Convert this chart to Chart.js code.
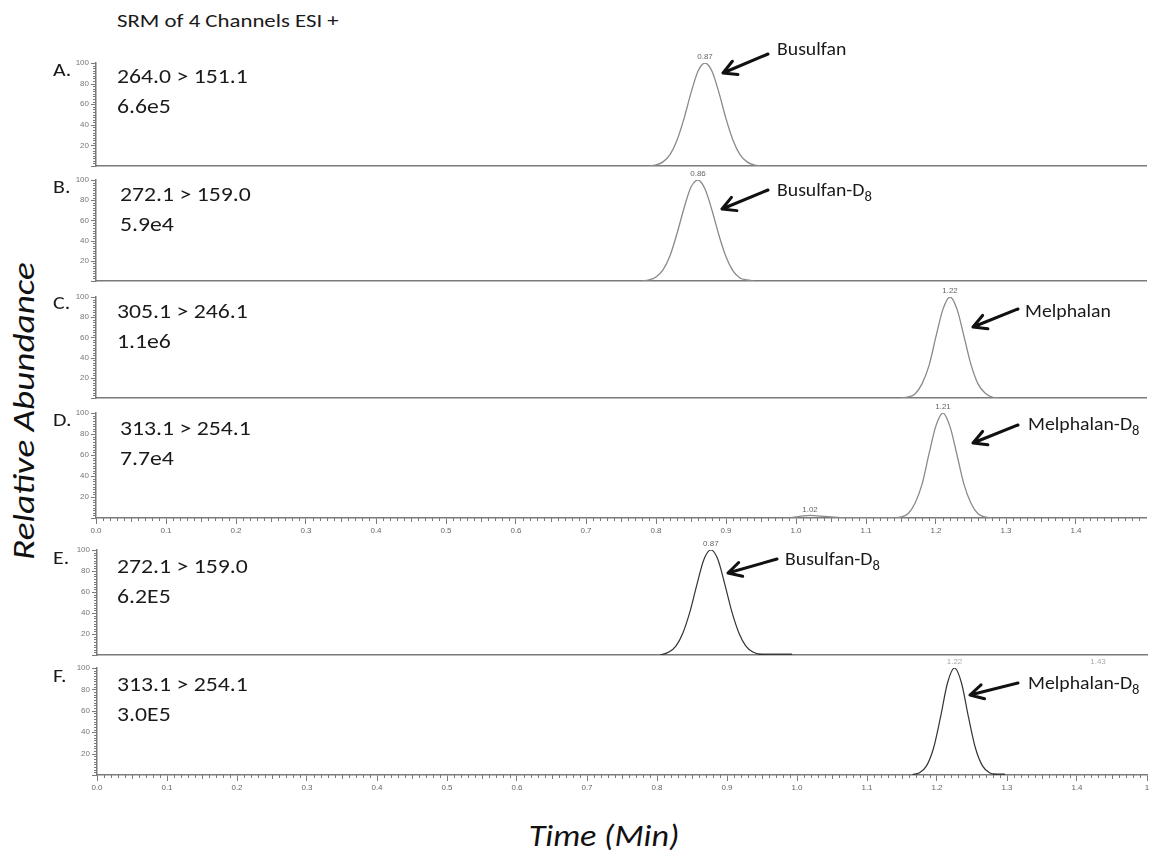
<!DOCTYPE html>
<html><head><meta charset="utf-8">
<script src="https://cdn.jsdelivr.net/npm/chart.js@4.4.1/dist/chart.umd.min.js"></script>
<style>
html,body{margin:0;padding:0;background:#fff;}
#stage{position:relative;width:1169px;height:857px;overflow:hidden;font-family:Carlito,Lato,"Open Sans",sans-serif;color:#1a1a1a;}
canvas{position:absolute;}
.t{position:absolute;white-space:nowrap;line-height:1;transform-origin:0 50%;}
.chan{font-size:21px;transform:translateY(-50%) scaleX(1.13);}
.letter{font-size:19px;transform:translateY(-50%) scaleX(1.15);}
.title{font-size:19px;transform:translateY(-50%) scaleX(1.2);}
.comp{font-size:19px;transform:translateY(-50%) scaleX(1.04);}
.comp sub{font-size:14px;vertical-align:-5px;line-height:0;}
.ax{position:absolute;white-space:nowrap;line-height:1;font-style:italic;font-size:31px;color:#111;}
svg{position:absolute;left:0;top:0;}
</style></head><body><div id="stage"></div>
<script>
// ---------------- data ----------------
const timeA  = [0.79,0.80,0.81,0.82,0.83,0.84,0.85,0.86,0.87,0.88,0.89,0.90,0.91,0.92,0.93,0.94,0.95];
const abundA = [0,1,4,11,25,46,71,92,100,92,71,46,25,11,4,1,0];

const timeB  = [0.78,0.79,0.80,0.81,0.82,0.83,0.84,0.85,0.86,0.87,0.88,0.89,0.90,0.91,0.92,0.93,0.94];
const abundB = [0,1,4,11,25,47,72,93,100,91,70,45,24,10,3,1,0];

const timeC  = [1.15,1.16,1.17,1.18,1.19,1.20,1.21,1.22,1.23,1.24,1.25,1.26,1.27,1.28,1.29];
const abundC = [0,1,4,14,32,61,88,100,88,61,33,14,5,1,0];

const timeD  = [0.99,1.00,1.01,1.02,1.03,1.04,1.05,1.06,1.07,1.14,1.15,1.16,1.17,1.18,1.19,1.20,1.21,1.22,1.23,1.24,1.25,1.26,1.27,1.28];
const abundD = [0,1,2,2.5,2,1.5,1,0.5,0,0,1,4,14,32,61,88,100,87,60,32,14,4,1,0];

const timeE  = [0.805,0.817,0.827,0.837,0.847,0.857,0.867,0.877,0.887,0.897,0.907,0.917,0.927,0.937,0.947,0.96,0.993];
const abundE = [0,2.8,8.5,21,41,67,91,100,91,67,41,21,8.5,2.8,0.6,0,0];
const tailTimeE  = [0.945,0.993];
const tailAbundE = [0.4,0.4];

const timeF  = [1.165,1.175,1.185,1.195,1.205,1.215,1.225,1.235,1.245,1.255,1.265,1.275,1.285,1.297];
const abundF = [0.4,2.1,8.5,25,54,86,100,86,54,25,8.5,2.1,0.4,0];
const tailTimeF  = [1.28,1.297];
const tailAbundF = [0.4,0.4];

const xTickValues  = [0,0.1,0.2,0.3,0.4,0.5,0.6,0.7,0.8,0.9,1.0,1.1,1.2,1.3,1.4];
const xTickLabels  = ['0.0','0.1','0.2','0.3','0.4','0.5','0.6','0.7','0.8','0.9','1.0','1.1','1.2','1.3','1.4'];
const xTickValuesF = [0,0.1,0.2,0.3,0.4,0.5,0.6,0.7,0.8,0.9,1.0,1.1,1.2,1.3,1.4,1.5];
const xTickLabelsF = ['0.0','0.1','0.2','0.3','0.4','0.5','0.6','0.7','0.8','0.9','1.0','1.1','1.2','1.3','1.4','1'];
const yTickValues  = [0,20,40,60,80,100];
const yTickLabels  = ['','20','40','60','80','100'];

const panelLetters = ['A.','B.','C.','D.','E.','F.'];
const transitions  = ['264.0 > 151.1','272.1 > 159.0','305.1 > 246.1','313.1 > 254.1','272.1 > 159.0','313.1 > 254.1'];
const intensities  = ['6.6e5','5.9e4','1.1e6','7.7e4','6.2E5','3.0E5'];
const compoundNames = ['Busulfan','Busulfan-D','Melphalan','Melphalan-D','Busulfan-D','Melphalan-D'];
const compoundSubs  = ['','8','','8','8','8'];

const peakTimesA = [0.87]; const peakTextA = ['0.87']; const peakAbundA = [100];
const peakTimesB = [0.86]; const peakTextB = ['0.86']; const peakAbundB = [100];
const peakTimesC = [1.22]; const peakTextC = ['1.22']; const peakAbundC = [100];
const peakTimesD = [1.21, 1.02]; const peakTextD = ['1.21','1.02']; const peakAbundD = [100, 2.5];
const peakTimesE = [0.877]; const peakTextE = ['0.87']; const peakAbundE = [100];
const peakTimesF = [1.225, 1.43]; const peakTextF = ['1.22','1.43']; const peakAbundF = [100, 100];

// ---------------- layout ----------------
const stage = document.getElementById('stage');
const PAD_TOP = 10;
const panels = [
  {t:timeA,a:abundA,pt:peakTimesA,px:peakTextA,pa:peakAbundA,top:63,bottom:166,left:96,right:1146,labels:false,color:'#8a8a8a',lw:1.3},
  {t:timeB,a:abundB,pt:peakTimesB,px:peakTextB,pa:peakAbundB,top:180,bottom:281,left:96,right:1146,labels:false,color:'#8a8a8a',lw:1.3},
  {t:timeC,a:abundC,pt:peakTimesC,px:peakTextC,pa:peakAbundC,top:297,bottom:398,left:96,right:1146,labels:false,color:'#8a8a8a',lw:1.3},
  {t:timeD,a:abundD,pt:peakTimesD,px:peakTextD,pa:peakAbundD,top:413,bottom:518,left:96,right:1146,labels:true,tv:xTickValues,tl:xTickLabels,minorMax:149,color:'#8a8a8a',lw:1.3},
  {t:timeE,a:abundE,pt:peakTimesE,px:peakTextE,pa:peakAbundE,top:550,bottom:655,left:97,right:1147,labels:false,color:'#333',lw:1.2,tailT:tailTimeE,tailA:tailAbundE},
  {t:timeF,a:abundF,pt:peakTimesF,px:peakTextF,pa:peakAbundF,top:668,bottom:775,left:97,right:1147,labels:true,tv:xTickValuesF,tl:xTickLabelsF,minorMax:150,color:'#333',lw:1.2,tailT:tailTimeF,tailA:tailAbundF,faint:[true,true]},
];

const deco = {
  id:'deco',
  afterDraw(chart, args, o){
    const {ctx, chartArea:ca, scales:{x,y}} = chart;
    ctx.save();
    ctx.strokeStyle = '#7a7a7a'; ctx.lineWidth = 1;
    ctx.beginPath();
    for (let i=0;i<=40;i++){
      const py = Math.round(y.getPixelForValue(i*2.5))+0.5;
      const len = (i%8===0)?5:3;
      ctx.moveTo(ca.left-len, py); ctx.lineTo(ca.left, py);
    }
    ctx.stroke();
    if (o.minorMax){
      ctx.beginPath();
      for (let i=0;i<=o.minorMax;i++){
        if (i%10===0) continue;
        const px = Math.round(x.getPixelForValue(i/100))+0.5;
        const len = (i%5===0)?4:3;
        ctx.moveTo(px, ca.bottom); ctx.lineTo(px, ca.bottom+len);
      }
      ctx.stroke();
    }
    ctx.font = '8px "Liberation Sans", Arial, sans-serif';
    ctx.textAlign = 'center'; ctx.textBaseline = 'bottom';
    o.pt.forEach((t,i)=>{
      ctx.fillStyle = (o.faint && o.faint[i]) ? '#aaa' : '#666';
      ctx.fillText(o.px[i], x.getPixelForValue(t), y.getPixelForValue(o.pa[i])-2);
    });
    ctx.restore();
  }
};

panels.forEach((p,idx)=>{
  const xh = p.labels ? 22 : 1;
  const T = p.top - PAD_TOP;
  const L = p.left - 40;
  const W = 1162 - L;
  const H = p.bottom - T + xh;
  const cv = document.createElement('canvas');
  cv.width = W; cv.height = H;
  cv.style.left = L+'px'; cv.style.top = T+'px';
  cv.style.width = W+'px'; cv.style.height = H+'px';
  stage.appendChild(cv);
  const datasets = [{
    data: p.t.map((t,i)=>({x:t,y:p.a[i]})),
    borderColor:p.color, borderWidth:p.lw, pointRadius:0, fill:false,
    cubicInterpolationMode:'monotone'
  }];
  if (p.tailT){
    datasets.push({data:p.tailT.map((t,i)=>({x:t,y:p.tailA[i]})),borderColor:'#444',borderWidth:2.2,pointRadius:0,fill:false});
  }
  new Chart(cv, {
    type:'line',
    data:{datasets},
    options:{
      responsive:false, animation:false, devicePixelRatio:1,
      layout:{padding:{top:PAD_TOP,right:W-(p.right-L),left:0,bottom:0}},
      plugins:{legend:{display:false},tooltip:{enabled:false},
        deco:{minorMax:p.minorMax,pt:p.pt,px:p.px,pa:p.pa,faint:p.faint}},
      scales:{
        x:{type:'linear',min:0,max:1.5,
          afterBuildTicks:s=>{ s.ticks = (p.tv||xTickValues).map(v=>({value:v})); },
          afterFit:s=>{ s.height = xh; },
          ticks:{display:p.labels,autoSkip:false,maxRotation:0,padding:2,color:'#666',
            font:{size:8,family:'"Liberation Sans", Arial, sans-serif'},
            callback:(v,i)=>(p.tl||xTickLabels)[i]},
          grid:{drawOnChartArea:false,drawTicks:p.labels,tickLength:6,color:'#7a7a7a'},
          border:{display:true,color:'#7a7a7a',width:1.5}
        },
        y:{type:'linear',min:0,max:100,
          afterBuildTicks:s=>{ s.ticks = yTickValues.map(v=>({value:v})); },
          afterFit:s=>{ s.width = 40; s.paddingTop = 0; s.paddingBottom = 0; },
          ticks:{autoSkip:false,padding:7,color:'#777',
            font:{size:8,family:'"Liberation Sans", Arial, sans-serif'},
            callback:(v,i)=>yTickLabels[i]},
          grid:{drawOnChartArea:false,drawTicks:false,tickLength:0,color:'#7a7a7a'},
          border:{display:true,color:'#7a7a7a',width:1.5}
        }
      }
    },
    plugins:[deco]
  });
});

// ---------------- text annotations ----------------
function addText(cls, html, x, y){
  const d = document.createElement('div');
  d.className = 't '+cls; d.innerHTML = html;
  d.style.left = x+'px'; d.style.top = y+'px';
  stage.appendChild(d); return d;
}
addText('title', 'SRM of 4 Channels ESI +', 117, 20);

const letterPos = [[53,69],[53,186],[53,302],[53,419],[53,557],[53,675]];
const chanPos   = [[117,76],[120,194],[117,311],[120,428],[117,566],[117,684]];
const compPos   = [[777,48],[777,189],[1025,310],[1028,423],[785,558],[1028,682]];
panelLetters.forEach((s,i)=>{
  addText('letter', s, letterPos[i][0], letterPos[i][1]);
  addText('chan', transitions[i], chanPos[i][0], chanPos[i][1]);
  addText('chan', intensities[i], chanPos[i][0], chanPos[i][1]+30);
  addText('comp', compoundNames[i] + (compoundSubs[i]?'<sub>'+compoundSubs[i]+'</sub>':''), compPos[i][0], compPos[i][1]);
});

const yl = document.createElement('div');
yl.className='ax'; yl.textContent='Relative Abundance';
yl.style.left='23px'; yl.style.top='411px';
yl.style.transform='translate(-50%,-50%) rotate(-90deg) scaleX(1.2)';
stage.appendChild(yl);
const xl = document.createElement('div');
xl.className='ax'; xl.textContent='Time (Min)';
xl.style.left='604px'; xl.style.top='835px';
xl.style.transform='translate(-50%,-50%) scaleX(1.1)';
stage.appendChild(xl);

// ---------------- arrows ----------------
const arrows = [[768,54,723,73],[768,190,722,209],[1018,309,973,327],[1018,425,973,443],[777,559,728,573],[1018,683,970,695]];
const NS='http://www.w3.org/2000/svg';
const svg = document.createElementNS(NS,'svg');
svg.setAttribute('width','1169'); svg.setAttribute('height','857');
arrows.forEach(([x1,y1,x2,y2])=>{
  const ang = Math.atan2(y2-y1, x2-x1);
  const hl = 15, ha = 0.5;
  const p1 = [x2 - hl*Math.cos(ang-ha), y2 - hl*Math.sin(ang-ha)];
  const p2 = [x2 - hl*Math.cos(ang+ha), y2 - hl*Math.sin(ang+ha)];
  const path = document.createElementNS(NS,'path');
  path.setAttribute('d',`M${x1},${y1} L${x2},${y2} M${p1[0]},${p1[1]} L${x2},${y2} L${p2[0]},${p2[1]}`);
  path.setAttribute('stroke','#111'); path.setAttribute('stroke-width','3');
  path.setAttribute('fill','none'); path.setAttribute('stroke-linecap','round'); path.setAttribute('stroke-linejoin','round');
  svg.appendChild(path);
});
stage.appendChild(svg);
</script>
</body></html>
